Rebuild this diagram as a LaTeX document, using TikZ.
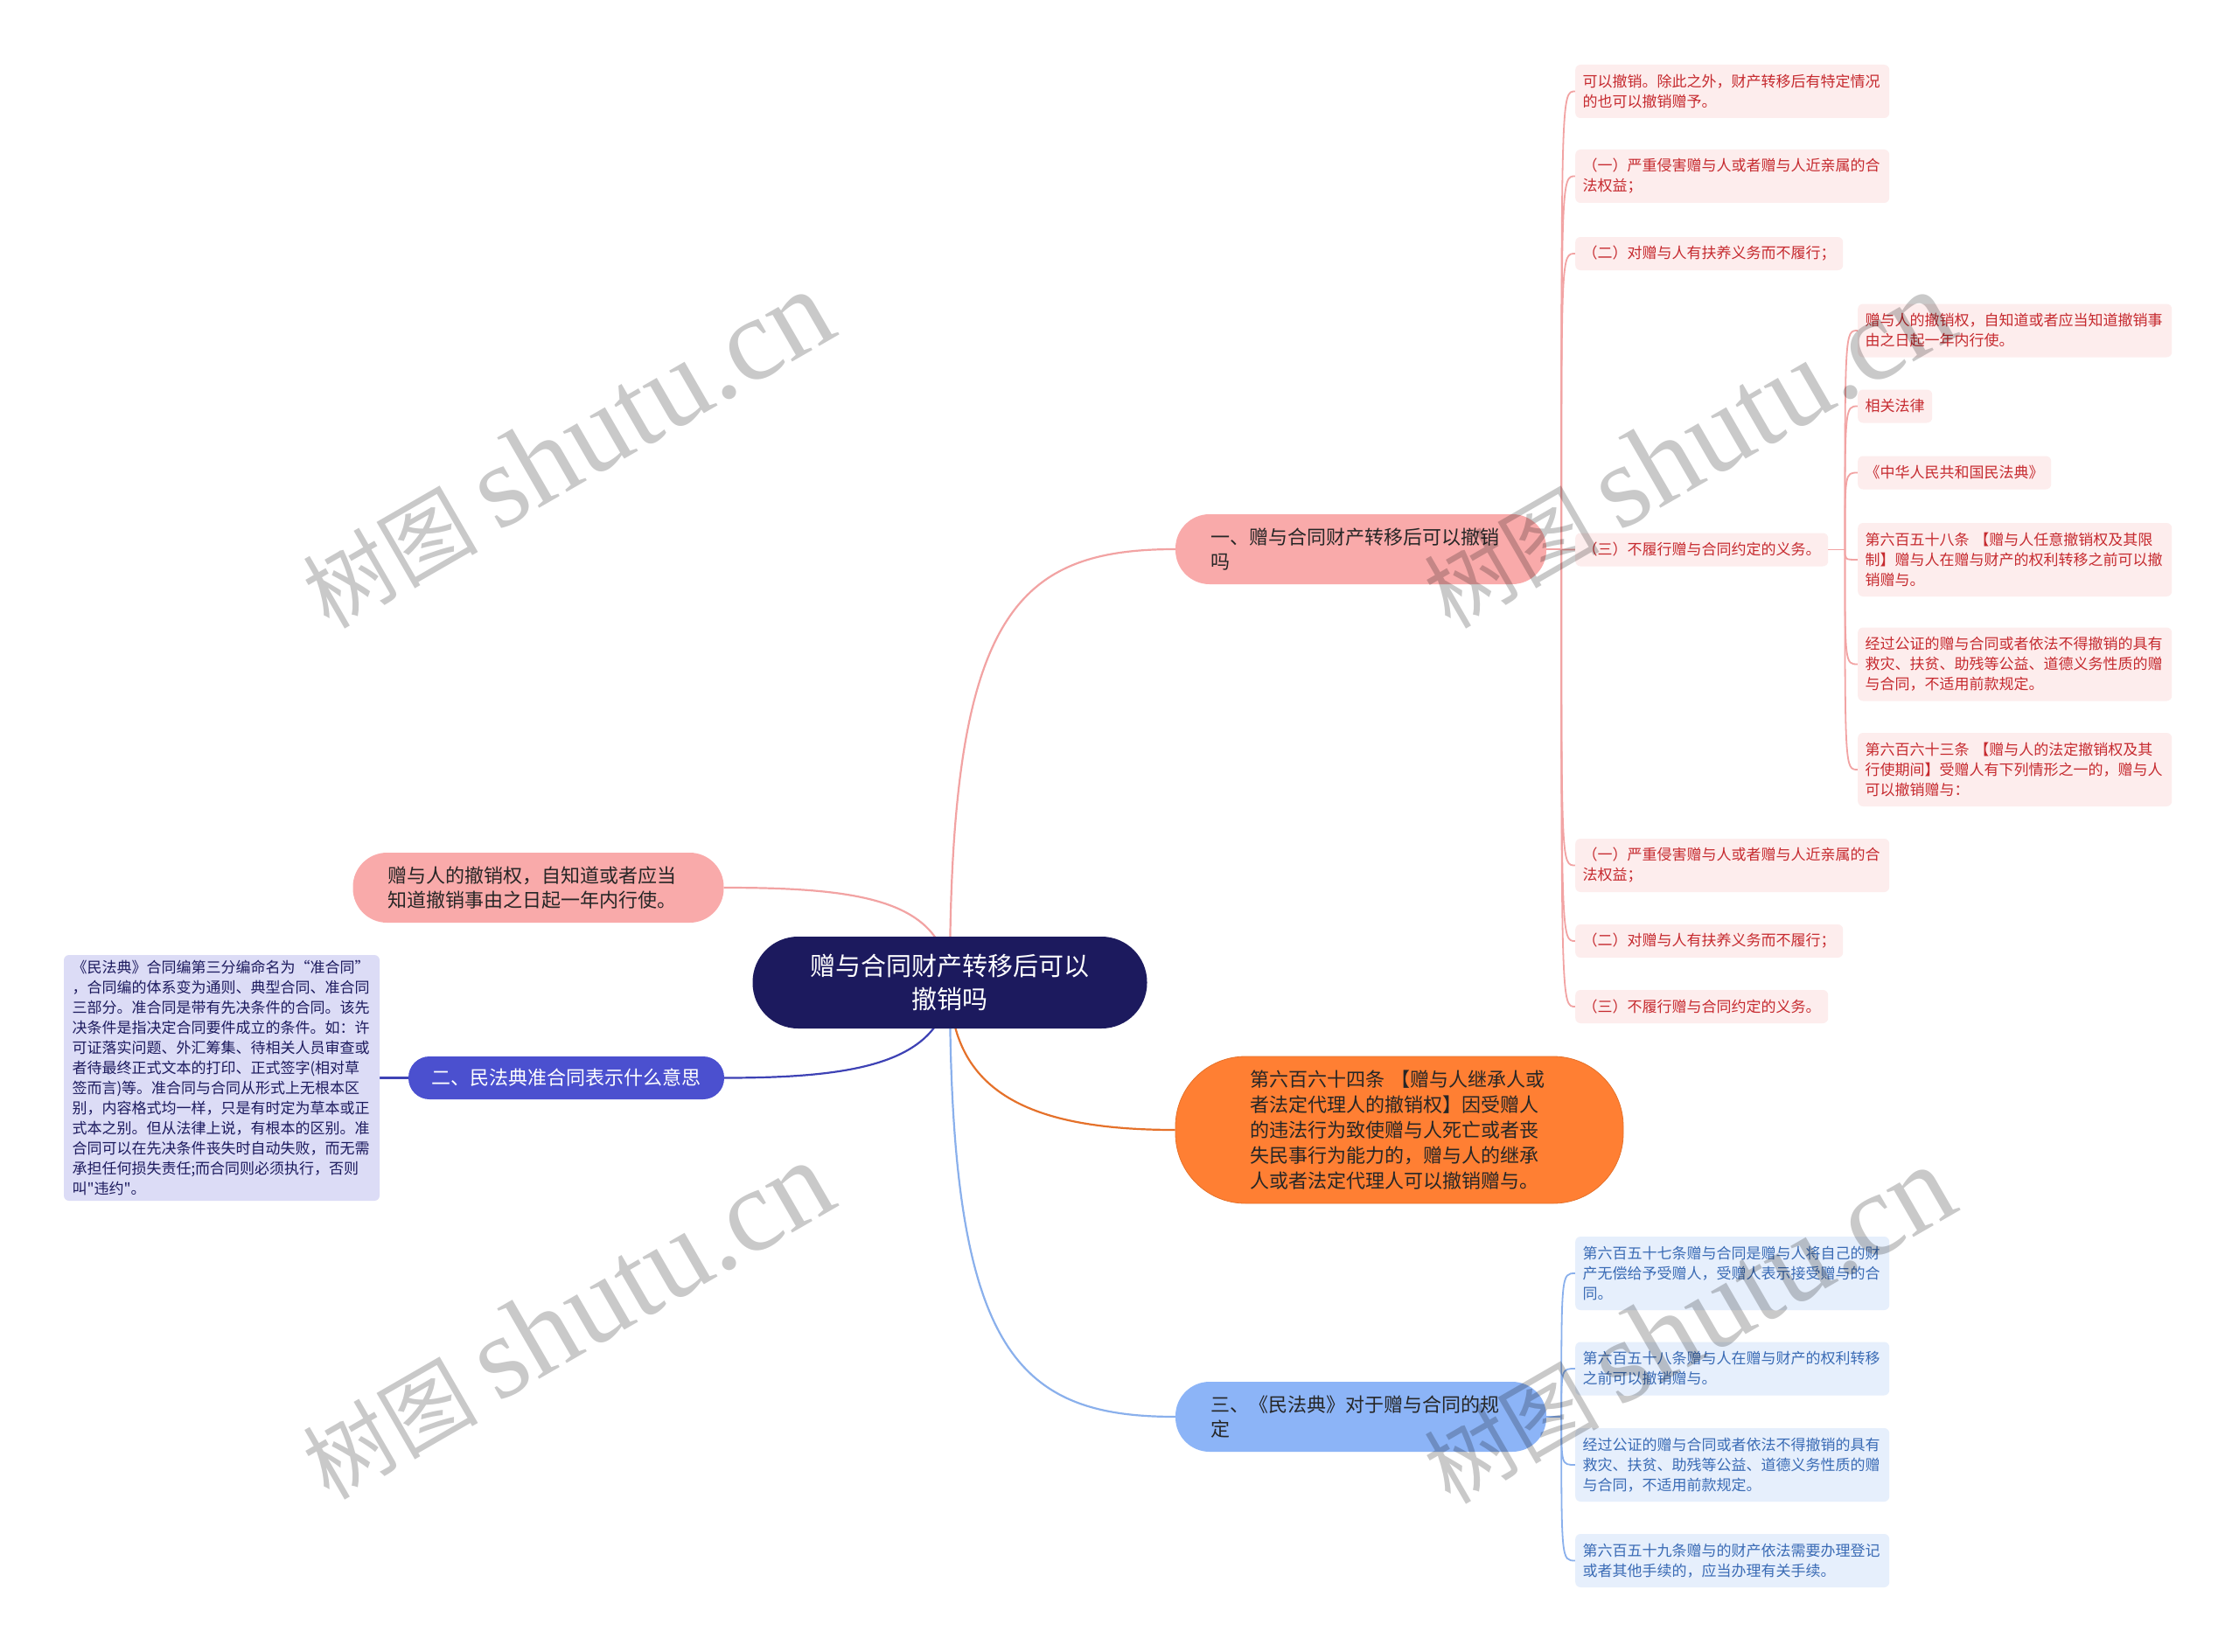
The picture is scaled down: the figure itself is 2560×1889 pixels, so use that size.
\documentclass[tikz,border=0pt]{standalone}
\usepackage{fontspec}
\setmainfont{Noto Sans CJK SC}
\newfontfamily\plaincjk{Noto Sans CJK SC}
\newfontfamily\wmserif{Liberation Serif}
\usetikzlibrary{positioning, calc, backgrounds}
\definecolor{rootnavy}{HTML}{1C1A5E}
\definecolor{revpink}{HTML}{F9AAAA}
\definecolor{revline}{HTML}{F2A3A3}
\definecolor{revtext}{HTML}{C62A2F}
\definecolor{revleaf}{HTML}{FDEDED}
\definecolor{quasiblue}{HTML}{4B50CF}
\definecolor{quasiline}{HTML}{3E42B5}
\definecolor{quasileaf}{HTML}{DCDCF6}
\definecolor{heirorng}{HTML}{FF7F33}
\definecolor{heirline}{HTML}{E5712A}
\definecolor{codeblue}{HTML}{8CB4F7}
\definecolor{codeline}{HTML}{8AB0EC}
\definecolor{codetext}{HTML}{3A6BB5}
\definecolor{codeleaf}{HTML}{E6EFFC}

\begin{document}
\begin{tikzpicture}[
    x=1pt, y=-1pt,
    every node/.style={font=\fontsize{17pt}{23pt}\selectfont},
    topic/.style={
      rounded corners=52pt, fill=rootnavy, text=white,
      minimum width=451pt, minimum height=105pt, align=center,
      font=\fontsize{29pt}{37.5pt}\selectfont
    },
    branch/.style={
      rounded corners=39pt, minimum height=80pt, inner xsep=40pt,
      text width=344pt, align=left, text=black!85,
      font=\fontsize{22pt}{28pt}\selectfont
    },
    quasi/.style={
      rounded corners=24pt, fill=quasiblue, text=white,
      minimum width=361pt, minimum height=49pt, align=center,
      font=\fontsize{22pt}{28pt}\selectfont
    },
    heir/.style={
      rounded corners=80pt, fill=heirorng, draw=heirline, line width=0.8pt,
      minimum height=168pt, inner xsep=85pt, text width=342pt,
      align=left, text=black!85, font=\fontsize{22pt}{29pt}\selectfont
    },
    leaf/.style={
      rounded corners=6pt, inner xsep=8.5pt, inner ysep=3pt,
      minimum height=38pt, align=left
    },
    redleaf/.style={leaf, anchor=west, fill=revleaf, text=revtext},
    blueleaf/.style={leaf, anchor=west, fill=codeleaf, text=codetext},
    two/.style={minimum height=61pt, text width=342pt},
    three/.style={minimum height=84pt, text width=342pt},
    mainedge/.style={line width=2.2pt},
    revedge/.style={draw=revline, line width=1.8pt},
    codeedge/.style={draw=codeline, line width=1.8pt},
    wmark/.style={text=black, text opacity=0.21, rotate=30, inner sep=0pt},
  ]

  \node[topic] (root) at (1086,1123.5) {赠与合同财产转移后可以\\撤销吗};

  \node[branch, fill=revpink] (b1) at (1556,628) {一、赠与合同财产转移后可以撤销\\吗};
  \node[branch, fill=revpink] (lapse) at (615.5,1015) {赠与人的撤销权，自知道或者应当\\知道撤销事由之日起一年内行使。};
  \node[quasi] (b2) at (647.5,1232.5) {二、民法典准合同表示什么意思};
  \node[heir] (heir) at (1600,1292) {第六百六十四条 【赠与人继承人或\\者法定代理人的撤销权】因受赠人\\的违法行为致使赠与人死亡或者丧\\失民事行为能力的，赠与人的继承\\人或者法定代理人可以撤销赠与。};
  \node[branch, fill=codeblue] (b3) at (1556,1620) {三、《民法典》对于赠与合同的规\\定};

  \node[leaf, fill=quasileaf, text=rootnavy, text width=342pt, inner xsep=9.5pt,
        minimum height=281pt, font=\plaincjk\fontsize{17pt}{23pt}\selectfont] (qdef) at (253.5,1232.5)
    {《民法典》合同编第三分编命名为“准合同”\\，合同编的体系变为通则、典型合同、准合同\\三部分。准合同是带有先决条件的合同。该先\\决条件是指决定合同要件成立的条件。如：许\\可证落实问题、外汇筹集、待相关人员审查或\\者待最终正式文本的打印、正式签字(相对草\\签而言)等。准合同与合同从形式上无根本区\\别，内容格式均一样，只是有时定为草本或正\\式本之别。但从法律上说，有根本的区别。准\\合同可以在先决条件丧失时自动失败，而无需\\承担任何损失责任;而合同则必须执行，否则\\叫"违约"。};

  \node[redleaf, two] (r1) at (1801,104.5) {可以撤销。除此之外，财产转移后有特定情况\\的也可以撤销赠予。};
  \node[redleaf, two] (r2) at (1801,201.5) {（一）严重侵害赠与人或者赠与人近亲属的合\\法权益；};
  \node[redleaf] (r3) at (1801,290) {（二）对赠与人有扶养义务而不履行；};
  \node[redleaf] (r4) at (1801,628.5) {（三）不履行赠与合同约定的义务。};
  \node[redleaf, two] (r5) at (1801,989.5) {（一）严重侵害赠与人或者赠与人近亲属的合\\法权益；};
  \node[redleaf] (r6) at (1801,1076) {（二）对赠与人有扶养义务而不履行；};
  \node[redleaf] (r7) at (1801,1151) {（三）不履行赠与合同约定的义务。};

  \node[redleaf, two] (s1) at (2124,378) {赠与人的撤销权，自知道或者应当知道撤销事\\由之日起一年内行使。};
  \node[redleaf] (s2) at (2124,464.5) {相关法律};
  \node[redleaf] (s3) at (2124,540.5) {《中华人民共和国民法典》};
  \node[redleaf, three] (s4) at (2124,640) {第六百五十八条 【赠与人任意撤销权及其限\\制】赠与人在赠与财产的权利转移之前可以撤\\销赠与。};
  \node[redleaf, three] (s5) at (2124,759.5) {经过公证的赠与合同或者依法不得撤销的具有\\救灾、扶贫、助残等公益、道德义务性质的赠\\与合同，不适用前款规定。};
  \node[redleaf, three] (s6) at (2124,880) {第六百六十三条 【赠与人的法定撤销权及其\\行使期间】受赠人有下列情形之一的，赠与人\\可以撤销赠与：};

  \node[blueleaf, three] (c1) at (1801,1456) {第六百五十七条赠与合同是赠与人将自己的财\\产无偿给予受赠人，受赠人表示接受赠与的合\\同。};
  \node[blueleaf, two] (c2) at (1801,1565) {第六百五十八条赠与人在赠与财产的权利转移\\之前可以撤销赠与。};
  \node[blueleaf, three] (c3) at (1801,1675) {经过公证的赠与合同或者依法不得撤销的具有\\救灾、扶贫、助残等公益、道德义务性质的赠\\与合同，不适用前款规定。};
  \node[blueleaf, two] (c4) at (1801,1784.5) {第六百五十九条赠与的财产依法需要办理登记\\或者其他手续的，应当办理有关手续。};

  \begin{scope}[on background layer]
    \fill[white] (0,0) rectangle (2560,1889);
    \draw[mainedge, revline] (root.center) .. controls +(0,-420) and +(-184,0) .. (b1.west);
    \draw[mainedge, revline] (root.center) .. controls +(-6,-93) and +(162,0) .. (lapse.east);
    \draw[mainedge, quasiline] (root.center) .. controls +(-6,92) and +(152,0) .. (b2.east);
    \draw[mainedge, heirline] (root.center) .. controls +(0,127) and +(-164,0) .. (heir.west);
    \draw[mainedge, codeline] (root.center) .. controls +(0,420) and +(-184,0) .. (b3.west);
    \draw[mainedge, quasiline] (b2.west) -- (qdef.east);

    \draw[revedge] (b1.east) -- ++(17,0) coordinate (b1s);
    \foreach \c in {r1,r2,r3,r4,r5,r6,r7}
      \draw[revedge] (b1s) .. controls (b1s |- \c.west) .. (\c.west);
    \draw[revedge] (r4.east) -- ++(19,0) coordinate (r4s);
    \foreach \c in {s1,s2,s3,s4,s5,s6}
      \draw[revedge] (r4s) .. controls (r4s |- \c.west) .. (\c.west);
    \draw[codeedge] (b3.east) -- ++(17,0) coordinate (b3s);
    \foreach \c in {c1,c2,c3,c4}
      \draw[codeedge] (b3s) .. controls (b3s |- \c.west) .. (\c.west);
  \end{scope}

  \node[wmark] (wm1) at (648,514) {\fontsize{100pt}{100pt}\selectfont 树图 \wmserif\fontsize{135pt}{135pt}\selectfont shutu.cn};
  \node[wmark] (wm2) at (1930,514) {\fontsize{100pt}{100pt}\selectfont 树图 \wmserif\fontsize{135pt}{135pt}\selectfont shutu.cn};
  \node[wmark] (wm3) at (648,1510) {\fontsize{100pt}{100pt}\selectfont 树图 \wmserif\fontsize{135pt}{135pt}\selectfont shutu.cn};
  \node[wmark] (wm4) at (1930,1515) {\fontsize{100pt}{100pt}\selectfont 树图 \wmserif\fontsize{135pt}{135pt}\selectfont shutu.cn};

  \useasboundingbox (0,0) rectangle (2560,1889);
\end{tikzpicture}
\end{document}
